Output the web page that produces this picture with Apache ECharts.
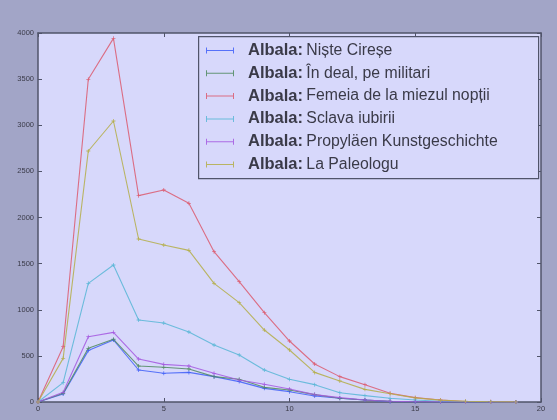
<!DOCTYPE html>
<html><head><meta charset="utf-8">
<script src="https://cdn.jsdelivr.net/npm/echarts@6/dist/echarts.min.js"></script>
<style>html,body{margin:0;padding:0;background:#a2a5c7}#c{width:557px;height:420px}</style>
</head><body><div id="c"></div>
<script>
var xValues = [0,1,2,3,4,5,6,7,8,9,10,11,12,13,14,15,16,17,18,19];
var seriesNames = [
  'Albala: Niște Cireșe',
  'Albala: În deal, pe militari',
  'Albala: Femeia de la miezul nopții',
  'Albala: Sclava iubirii',
  'Albala: Propyläen Kunstgeschichte',
  'Albala: La Paleologu'
];
var niste     = [0, 87, 557, 672, 347, 311, 321, 275, 221, 148, 112, 65, 40, 22, 4, 2, 1, 0, 0, 0];
var indeal    = [0, 94, 582, 680, 390, 376, 358, 275, 246, 159, 130, 80, 40, 22, 8, 3, 1, 0, 0, 0];
var femeia    = [0, 600, 3498, 3942, 2237, 2298, 2154, 1629, 1304, 968, 661, 412, 275, 188, 94, 47, 22, 6, 2, 1];
var sclava    = [0, 210, 1286, 1485, 889, 856, 759, 618, 510, 347, 246, 188, 101, 69, 40, 22, 8, 3, 1, 0];
var propylaen = [0, 105, 708, 755, 466, 408, 390, 311, 238, 192, 141, 80, 47, 22, 8, 3, 1, 0, 0, 0];
var paleologu = [0, 473, 2721, 3046, 1767, 1702, 1644, 1286, 1077, 780, 564, 321, 228, 137, 90, 45, 20, 8, 3, 1];
var xTicks = [0, 5, 10, 15, 20];
var yTicks = [0, 500, 1000, 1500, 2000, 2500, 3000, 3500, 4000];

var allData = [niste, indeal, femeia, sclava, propylaen, paleologu];
var colors = ['#3f5ff8', '#4f8a5e', '#dc5a6e', '#58b6d6', '#a458e0', '#b4ae48'];
var plusPath = 'path://M4,0H6V4H10V6H6V10H4V6H0V4H4Z';
var legendIcon = 'path://M0,4.5H28V5.5H0Z M0,2H1V8H0Z M27,2H28V8H27Z';

var chart = echarts.init(document.getElementById('c'), null, {renderer: 'canvas'});
var series = allData.map(function (d, i) {
  return {
    name: seriesNames[i],
    type: 'line',
    data: d.map(function (v, j) { return [xValues[j], v]; }),
    color: colors[i],
    lineStyle: {width: 1.1, color: colors[i], opacity: 0.85},
    itemStyle: {color: colors[i], opacity: 0.85},
    symbol: plusPath,
    symbolSize: 4,
    showSymbol: true,
    animation: false,
    z: 3
  };
});
function axisCommon() {
  return {
    axisLine: {show: true, onZero: false, lineStyle: {color: '#50546a', width: 1.5}},
    axisTick: {show: true, inside: true, length: 4, lineStyle: {color: '#50546a', width: 1}},
    splitLine: {show: false}
  };
}
var plainFmt = function (v) { return String(v); };
chart.setOption({
  backgroundColor: '#a2a5c7',
  animation: false,
  textStyle: {fontFamily: 'Liberation Sans'},
  grid: {left: 38, top: 33, right: 16, bottom: 18, show: true, backgroundColor: '#d7d8fb', borderWidth: 0},
  xAxis: [
    Object.assign({type: 'value', min: xTicks[0], max: xTicks[xTicks.length - 1], interval: 5, position: 'bottom',
      axisLabel: {show: true, fontSize: 7.5, color: '#3a3a48', margin: 3, formatter: plainFmt}}, axisCommon()),
    Object.assign({type: 'value', min: xTicks[0], max: xTicks[xTicks.length - 1], interval: 5, position: 'top',
      axisLabel: {show: false}}, axisCommon())
  ],
  yAxis: [
    Object.assign({type: 'value', min: yTicks[0], max: yTicks[yTicks.length - 1], interval: 500, position: 'left',
      axisLabel: {show: true, fontSize: 7.5, color: '#3a3a48', margin: 4, formatter: plainFmt}}, axisCommon()),
    Object.assign({type: 'value', min: yTicks[0], max: yTicks[yTicks.length - 1], interval: 500, position: 'right',
      axisLabel: {show: false}}, axisCommon())
  ],
  graphic: [{
    type: 'rect', left: 198, top: 36, z: 10,
    shape: {width: 340, height: 142},
    style: {fill: '#d7d8fb', stroke: '#50546a', lineWidth: 1.2}
  }],
  legend: {
    orient: 'vertical', left: 206, top: 42, z: 20,
    itemWidth: 28, itemHeight: 10, itemGap: 5.8,
    padding: 0,
    data: seriesNames.map(function (n) { return {name: n, icon: legendIcon}; }),
    formatter: function (name) {
      var k = name.indexOf(': ');
      return '{b|' + name.slice(0, k + 1) + '} {n|' + name.slice(k + 2) + '}';
    },
    textStyle: {
      color: '#333340',
      rich: {
        b: {fontFamily: 'Liberation Sans', fontWeight: 'bold', fontSize: 16.5, color: '#3a3a48', lineHeight: 16, padding: [0, 0, 0, 9]},
        n: {fontFamily: 'Liberation Sans', fontSize: 15.8, color: '#3a3a48', lineHeight: 16}
      }
    }
  },
  series: series
});
</script></body></html>
